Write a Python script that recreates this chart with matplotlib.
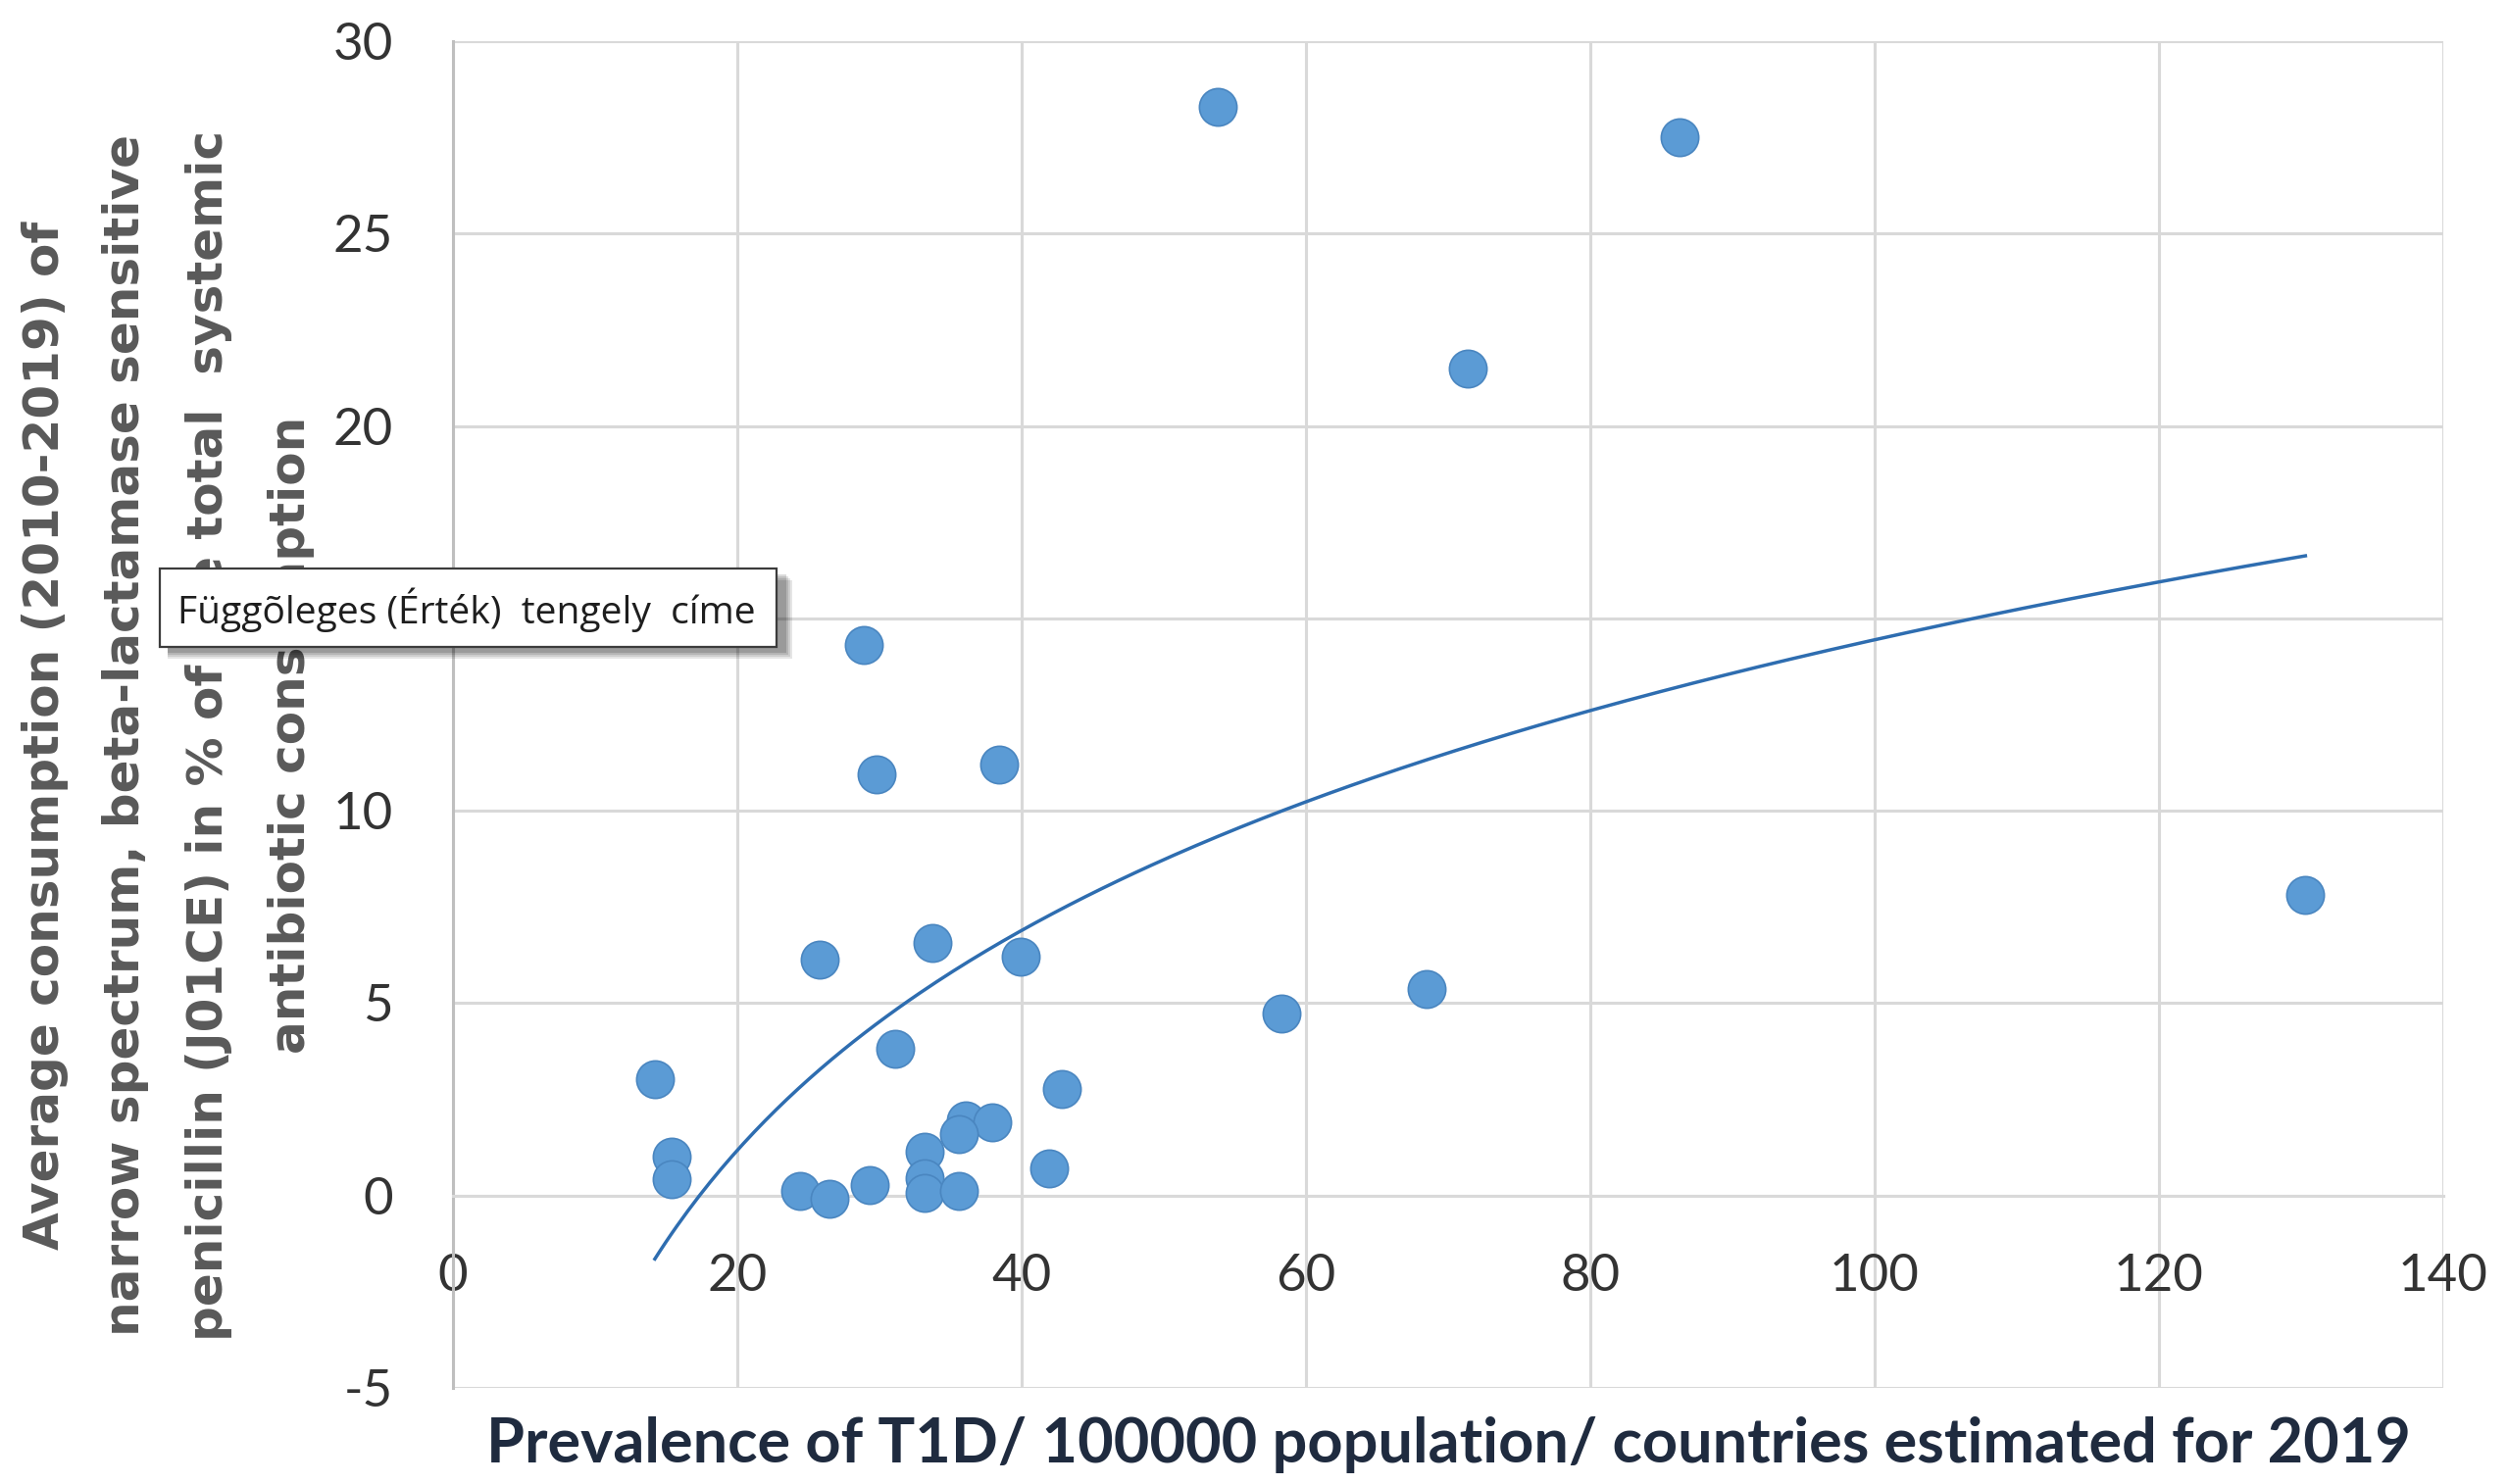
import numpy as np
import matplotlib
matplotlib.use("Agg")
import matplotlib.pyplot as plt
from matplotlib.patches import Rectangle

# ---------------- data ----------------
prevalence = [53.8, 86.3, 71.4, 28.9, 29.8, 38.4, 25.8, 33.7, 39.9, 130.3,
              58.3, 68.5, 31.1, 14.2, 42.8, 15.4, 15.4, 36.1, 37.9, 35.6,
              33.2, 33.2, 33.2, 35.6, 41.9, 24.4, 26.5, 29.3]
consumption = [28.3, 27.5, 21.5, 14.3, 10.95, 11.2, 6.14, 6.57, 6.21, 7.82,
               4.74, 5.36, 3.82, 3.03, 2.78, 1.02, 0.43, 1.96, 1.91, 1.6,
               1.15, 0.45, 0.08, 0.13, 0.71, 0.13, -0.08, 0.28]
x_ticks = [0, 20, 40, 60, 80, 100, 120, 140]
y_ticks = [-5, 0, 5, 10, 15, 20, 25, 30]
x_label = "Prevalence of T1D/ 100000 population/ countries estimated for 2019"
y_label_lines = ["Average consumption (2010-2019) of",
                 "narrow spectrum, beta-lactamase sensitive",
                 "penicillin (J01CE) in % of the total  systemic",
                 "antibiotic consumption"]
tooltip_text = "Függõleges (Érték)  tengely  címe"

W, H = 2559, 1514
DPI = 100
fig = plt.figure(figsize=(W / DPI, H / DPI), dpi=DPI)
fig.patch.set_facecolor("white")

left_px, right_px, top_px, bottom_px = 462, 2492, 42, 1416
ax = fig.add_axes([left_px / W, 1 - bottom_px / H,
                   (right_px - left_px) / W, (bottom_px - top_px) / H])
ax.set_xlim(0, 140)
ax.set_ylim(-5, 30)
ax.set_xticks(x_ticks)
ax.set_yticks(y_ticks)
ax.set_xticklabels([str(v) for v in x_ticks])
ax.set_yticklabels([str(v) for v in y_ticks])

grid_c = "#D9D9D9"
ax.grid(True, color=grid_c, linewidth=2.2, zorder=0)
ax.set_axisbelow(True)
for s in ["top", "right"]:
    ax.spines[s].set_visible(False)
ax.spines["bottom"].set_position(("data", 0))
ax.spines["bottom"].set_color(grid_c)
ax.spines["bottom"].set_linewidth(2.2)
ax.spines["left"].set_color("#BFBFBF")
ax.spines["left"].set_linewidth(2.2)
ax.tick_params(axis="both", length=0)
ax.tick_params(axis="x", pad=43)
ax.tick_params(axis="y", pad=44)
for lab in ax.get_xticklabels() + ax.get_yticklabels():
    lab.set_fontfamily(["Lato", "DejaVu Sans"])
    lab.set_fontweight("normal")
    lab.set_fontsize(38)
    lab.set_color("#333333")

# scatter
ax.scatter(prevalence, consumption, s=760, color="#5B9BD5",
           edgecolor="#4A86C0", linewidth=1.2, zorder=3)

# logarithmic trendline fitted to the data
px = np.array(prevalence)
py = np.array(consumption)
a, b = np.polyfit(np.log(px), py, 1)
xt = np.linspace(px.min(), px.max(), 300)
ax.plot(xt, a * np.log(xt) + b, color="#2E6DB0", linewidth=2.5, zorder=4)

renderer = fig.canvas.get_renderer()


def fit_text(t, target, vertical=False):
    for _ in range(3):
        bb = t.get_window_extent(renderer)
        cur = bb.height if vertical else bb.width
        t.set_fontsize(t.get_fontsize() * target / cur)


# x label
xl = fig.text(1477 / W, 1 - 1474 / H, x_label, ha="center", va="center",
              fontsize=36, fontweight="bold", family=["Lato", "DejaVu Sans"],
              color="#1F2B3F")
fit_text(xl, 1965)

# y label (four centred lines)
y_centers = [46, 128, 213, 297]
ylabels = []
for line, xc in zip(y_label_lines, y_centers):
    t = fig.text(xc / W, 1 - 750 / H, line, ha="center", va="center",
                 rotation=90, fontsize=40, fontweight="bold",
                 family="DejaVu Sans", color="#595959")
    ylabels.append(t)
fit_text(ylabels[1], 1227, vertical=True)
for t in ylabels:
    t.set_fontsize(ylabels[1].get_fontsize())

# tooltip box with soft shadow
bx0, bx1, by0, by1 = 163, 792, 580, 660
for i, al in enumerate([0.10, 0.10, 0.12, 0.14]):
    off = 12 - i * 2
    fig.patches.append(Rectangle((bx0 / W + 8 / W, 1 - (by1 + off) / H),
                                 (bx1 - bx0 + off - 4) / W, (by1 - by0) / H,
                                 transform=fig.transFigure, facecolor="#000000",
                                 alpha=al, edgecolor="none", zorder=10))
fig.patches.append(Rectangle((bx0 / W, 1 - by1 / H), (bx1 - bx0) / W,
                             (by1 - by0) / H, transform=fig.transFigure,
                             facecolor="white", edgecolor="#3C3C3C",
                             linewidth=1.6, zorder=11))
tt = fig.text(476 / W, 1 - 622 / H, tooltip_text, ha="center", va="center",
              fontsize=30, family=["Open Sans", "DejaVu Sans"],
              color="#1E1E1E", zorder=12)
fit_text(tt, 588)

fig.savefig("out.png", dpi=DPI, facecolor="white")
